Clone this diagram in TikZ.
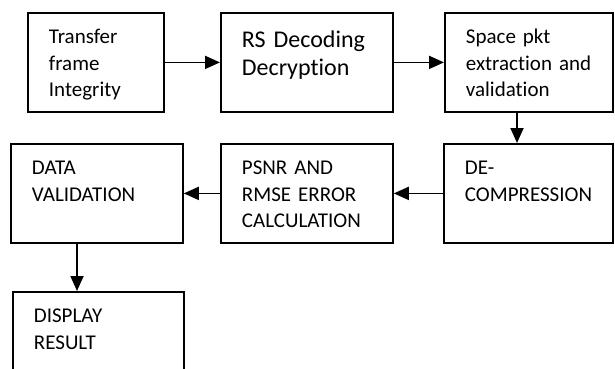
\documentclass[tikz,border=0pt]{standalone}
\usepackage{fontspec}
\setmainfont[Ligatures=NoCommon]{Carlito}
\usetikzlibrary{arrows.meta}
\tikzset{>={Triangle[length=15pt,width=13pt]}}
\tikzset{blk/.style={draw, line width=1.8pt, anchor=north west, inner xsep=21pt, inner ysep=0pt, align=left, text height=31pt, text depth=68pt, font=\fontsize{21}{26.5}\selectfont}}

\begin{document}
\begin{tikzpicture}[x=1pt, y=-1pt]
\useasboundingbox (0,0) rectangle (615,369);
\node[blk, text width=94pt] (tfi) at (27,12) {Transfer\\frame\\Integrity};
\node[blk, text width=130pt, text height=35pt, text depth=64pt, font=\fontsize{24}{28}\selectfont] (rsd) at (220,12) {RS Decoding\\Decryption};
\node[blk, text width=126pt] (spe) at (444,12) {Space pkt\\extraction and\\validation};
\node[blk, text width=127pt] (dcm) at (443,143) {DE-\\COMPRESSION};
\node[blk, text width=130pt] (err) at (220,143) {PSNR AND\\RMSE ERROR\\CALCULATION};
\node[blk, text width=130pt] (dval) at (10,143) {DATA\\VALIDATION};
\node[blk, text width=129pt] (disp) at (12,291) {DISPLAY\\RESULT};
\draw[->, line width=1.8pt] (tfi) -- (rsd);
\draw[->, line width=1.8pt] (rsd) -- (spe);
\draw[->, line width=1.8pt] ([xshift=73pt]spe.south west) -- ([xshift=73pt]spe.south west |- dcm.north);
\draw[->, line width=1.8pt] (dcm) -- (err);
\draw[->, line width=1.8pt] (err) -- (dval);
\draw[->, line width=1.8pt] ([xshift=67pt]dval.south west) -- ([xshift=67pt]dval.south west |- disp.north);
\end{tikzpicture}
\end{document}
